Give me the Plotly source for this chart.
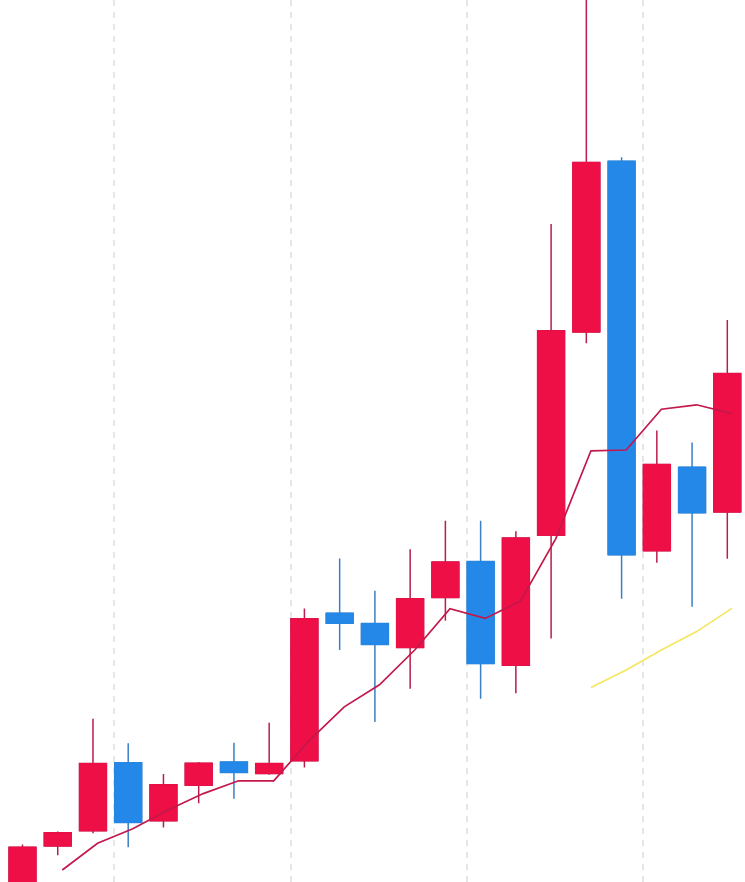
import plotly.graph_objects as go

# candle index (x) and OHLC prices
idx = list(range(21))
open_ = [9.55, 10.90, 11.28, 12.98, 11.53, 12.42, 13.00, 12.71, 13.03, 16.72, 16.46,
         15.86, 17.11, 18.01, 15.42, 18.67, 23.75, 28.02, 18.28, 20.37, 19.25]
high = [10.94, 11.26, 14.08, 13.47, 12.70, 13.00, 13.48, 13.98, 16.84, 18.09, 17.28,
        18.32, 19.03, 19.03, 18.77, 26.45, 32.50, 28.12, 21.29, 20.99, 24.05]
low = [9.43, 10.67, 11.22, 10.87, 11.36, 11.97, 12.08, 12.68, 12.86, 15.80, 14.00,
       14.83, 16.53, 14.58, 14.72, 16.09, 23.47, 17.08, 17.98, 16.88, 18.08]
close = [10.87, 11.23, 12.96, 11.49, 12.43, 12.97, 12.74, 12.96, 16.58, 16.47, 15.94,
         17.08, 18.00, 15.46, 18.60, 23.78, 27.99, 18.18, 20.44, 19.23, 22.71]

# moving-average lines
ma5_idx = list(range(1, 21))
ma5 = [10.30, 10.97, 11.33, 11.80, 12.21, 12.53, 12.53, 13.53, 14.38, 14.93,
       15.80, 16.83, 16.59, 17.02, 18.58, 20.78, 20.80, 21.82, 21.93, 21.71]
ma20_idx = [16, 17, 18, 19, 20]
ma20 = [14.86, 15.30, 15.80, 16.26, 16.84]

grid_ticks = [2.61, 7.61, 12.61, 17.61]

LINE_SHIFT = 0.13

RED = "#EF0F47"
RED_WICK = "#B81E4C"
BLUE = "#2388E8"
BLUE_WICK = "#3A80C4"

body_hi = [max(o, c) for o, c in zip(open_, close)]
body_lo = [min(o, c) for o, c in zip(open_, close)]

fig = go.Figure()
# wicks
fig.add_trace(go.Candlestick(
    x=idx, open=open_, high=high, low=low, close=close,
    increasing=dict(line=dict(color=RED_WICK, width=1.5), fillcolor=RED),
    decreasing=dict(line=dict(color=BLUE_WICK, width=1.5), fillcolor=BLUE),
    whiskerwidth=0, showlegend=False, hoverinfo="skip"))
# bodies (outline in fill colour)
fig.add_trace(go.Candlestick(
    x=idx, open=open_, high=body_hi, low=body_lo, close=close,
    increasing=dict(line=dict(color=RED, width=1), fillcolor=RED),
    decreasing=dict(line=dict(color=BLUE, width=1), fillcolor=BLUE),
    whiskerwidth=0, showlegend=False))

fig.add_trace(go.Scatter(x=[i + LINE_SHIFT for i in ma5_idx], y=ma5, mode="lines",
                         line=dict(color="#C2184B", width=1.7), showlegend=False))
fig.add_trace(go.Scatter(x=[i + LINE_SHIFT for i in ma20_idx], y=ma20, mode="lines",
                         line=dict(color="#F5E660", width=1.7), showlegend=False))

fig.update_layout(
    width=745, height=882,
    margin=dict(l=0, r=0, t=0, b=0),
    paper_bgcolor="white", plot_bgcolor="white",
    boxgap=0.234, boxgroupgap=0,
    xaxis=dict(range=[-0.638, 20.502], tickvals=grid_ticks, showticklabels=False,
               showgrid=True, gridcolor="#E6E6E6", gridwidth=2, griddash="6px,6px",
               zeroline=False, showline=False, rangeslider=dict(visible=False), ticks=""),
    yaxis=dict(range=[10, 32.05], showgrid=False, showticklabels=False,
               zeroline=False, showline=False, ticks=""),
)

fig.write_html("out.html", config={"displayModeBar": False},
               post_script="document.body.style.margin='0';document.body.style.overflow='hidden';")
